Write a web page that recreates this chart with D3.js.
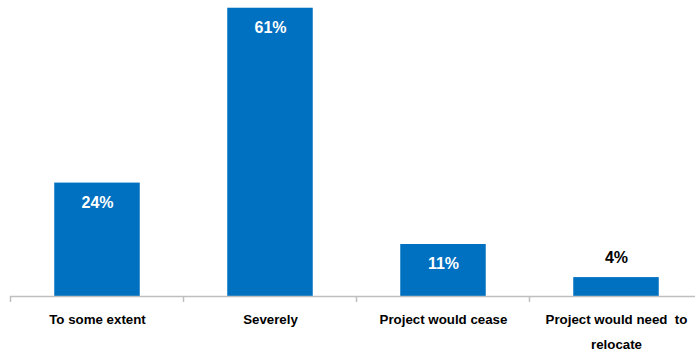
<!DOCTYPE html>
<html>
<head>
<meta charset="utf-8">
<script src="https://cdn.jsdelivr.net/npm/d3@7"></script>
<style>
  body { margin: 0; background: #fff; }
  svg { display: block; }
</style>
</head>
<body>
<svg id="chart" width="695" height="354"></svg>
<script>
// Share of respondents by impact level
const categories = ["To some extent", "Severely", "Project would cease", "Project would need to relocate"];
const values = [24, 61, 11, 4];
const valueLabels = ["24%", "61%", "11%", "4%"];

const svg = d3.select("#chart");
const baseY = 296;

const x = d3.scaleBand()
  .domain(categories)
  .range([10, 702])
  .paddingInner(0.5)
  .paddingOuter(0.25);

const y = d3.scaleLinear()
  .domain([0, 62])
  .range([baseY, 3]);

// bars
svg.selectAll("rect.bar")
  .data(values)
  .join("rect")
  .attr("class", "bar")
  .attr("x", (d, i) => x(categories[i]) + 1)
  .attr("y", d => y(d))
  .attr("width", x.bandwidth() - 1)
  .attr("height", d => baseY - y(d))
  .attr("fill", "#0070C0");

// value labels: inside tall bars, above short ones
svg.selectAll("text.val")
  .data(values)
  .join("text")
  .attr("class", "val")
  .attr("x", (d, i) => x(categories[i]) + x.bandwidth() / 2 + 1)
  .attr("y", d => (baseY - y(d) > 30 ? y(d) + 25 : y(d) - 14))
  .attr("text-anchor", "middle")
  .attr("font-family", "Liberation Sans, Arial, sans-serif")
  .attr("font-weight", "bold")
  .attr("font-size", 16)
  .attr("fill", d => (baseY - y(d) > 30 ? "#fff" : "#000"))
  .text((d, i) => valueLabels[i]);

// category axis with ticks at band boundaries
const axisColor = "#BFBFBF";
svg.append("line")
  .attr("x1", 10).attr("x2", 695)
  .attr("y1", baseY + 0.5).attr("y2", baseY + 0.5)
  .attr("stroke", axisColor).attr("stroke-width", 1.5);

const bounds = d3.range(categories.length + 1).map(i => 10 + i * x.step());
svg.selectAll("line.tick")
  .data(bounds)
  .join("line")
  .attr("class", "tick")
  .attr("x1", d => Math.round(d) + 0.5).attr("x2", d => Math.round(d) + 0.5)
  .attr("y1", baseY).attr("y2", baseY + 6)
  .attr("stroke", axisColor).attr("stroke-width", 1.5);

// category labels (wrapped to fit the band)
const wraps = {
  "Project would need to relocate": ["Project would need  to", "relocate"]
};
categories.forEach(c => {
  const lines = wraps[c] || [c];
  const cx = x(c) + x.bandwidth() / 2 + 1;
  const t = svg.append("text")
    .attr("x", cx)
    .attr("y", 324)
    .attr("text-anchor", "middle")
    .attr("font-family", "Liberation Sans, Arial, sans-serif")
    .attr("font-weight", "bold")
    .attr("font-size", 13.3)
    .attr("fill", "#000")
    .attr("xml:space", "preserve");
  lines.forEach((l, i) => {
    t.append("tspan")
      .attr("x", cx)
      .attr("dy", i === 0 ? 0 : 25)
      .text(l);
  });
});
</script>
</body>
</html>
